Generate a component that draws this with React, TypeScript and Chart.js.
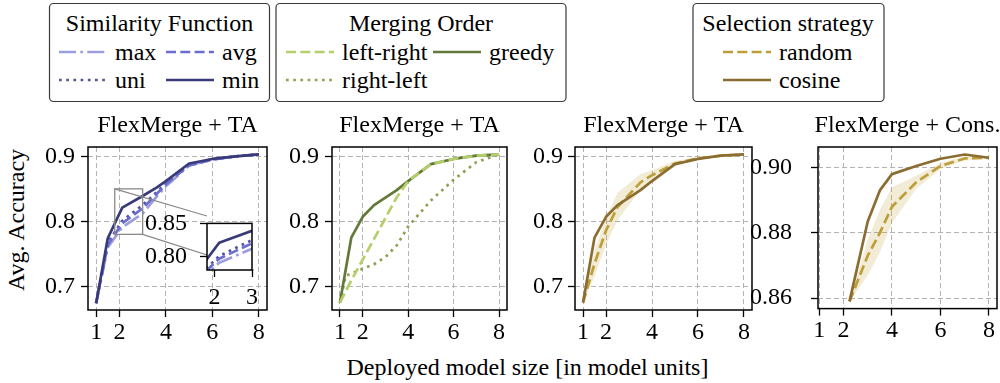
import React, { useEffect, useRef } from "react";
import { Chart, registerables } from "chart.js";

Chart.register(...registerables);

// ---------------- data ----------------
const X_TICKS = [1, 2, 4, 6, 8];
const Y_TICKS_TA = [0.7, 0.8, 0.9];
const Y_TICKS_CONS = [0.86, 0.88, 0.9];
const INSET_X_TICKS = [2, 3];
const INSET_Y_TICKS = [0.8, 0.85];

const PANEL_TITLES = ["FlexMerge + TA", "FlexMerge + TA", "FlexMerge + TA", "FlexMerge + Cons."];
const Y_AXIS_TITLE = "Avg. Accuracy";
const X_AXIS_TITLE = "Deployed model size [in model units]";

// Panel 1: similarity function
const SIM_X = [1, 1.5, 2.125, 3, 3.6, 4, 5, 6, 7, 8];
const SIM_MAX = [0.674, 0.76, 0.791, 0.812, 0.838, 0.854, 0.886, 0.895, 0.9, 0.903];
const SIM_UNI = [0.674, 0.767, 0.801, 0.825, 0.845, 0.858, 0.887, 0.896, 0.9, 0.903];
const SIM_AVG = [0.674, 0.764, 0.797, 0.82, 0.842, 0.857, 0.886, 0.895, 0.9, 0.903];
const SIM_MIN = [0.674, 0.774, 0.821, 0.839, 0.852, 0.862, 0.889, 0.896, 0.9, 0.903];

// Panel 2: merging order
const ORDER_X = [1, 1.5, 2, 2.5, 3.5, 4, 5, 6, 7, 8];
const ORDER_LEFT_RIGHT = [0.675, 0.709, 0.741, 0.773, 0.837, 0.862, 0.888, 0.896, 0.901, 0.903];
const ORDER_GREEDY = [0.675, 0.775, 0.807, 0.825, 0.848, 0.862, 0.888, 0.896, 0.901, 0.903];
const ORDER_RL_X = [1, 1.25, 2, 2.5, 3, 3.5, 4, 5, 6, 7, 8];
const ORDER_RIGHT_LEFT = [0.675, 0.716, 0.727, 0.734, 0.745, 0.763, 0.792, 0.832, 0.864, 0.891, 0.903];

// Panel 3: selection strategy (TA)
const SEL_TA_X = [1, 1.5, 2, 2.5, 3.5, 4, 5, 6, 7, 8];
const SEL_TA_COSINE = [0.675, 0.775, 0.807, 0.825, 0.848, 0.862, 0.888, 0.896, 0.901, 0.903];
const SEL_TA_RANDOM = [0.675, 0.735, 0.786, 0.822, 0.86, 0.871, 0.889, 0.897, 0.901, 0.903];
const SEL_TA_RANDOM_LO = [0.675, 0.715, 0.764, 0.802, 0.848, 0.863, 0.885, 0.895, 0.9, 0.902];
const SEL_TA_RANDOM_HI = [0.675, 0.755, 0.806, 0.844, 0.873, 0.879, 0.893, 0.899, 0.902, 0.904];

// Panel 4: selection strategy (Cons.)
const SEL_CONS_X = [2.25, 3, 3.5, 4, 5, 6, 7, 8];
const SEL_CONS_COSINE = [0.859, 0.8835, 0.893, 0.898, 0.9005, 0.9027, 0.904, 0.903];
const SEL_CONS_RANDOM = [0.859, 0.873, 0.88, 0.888, 0.8955, 0.9005, 0.9028, 0.903];
const SEL_CONS_RANDOM_LO = [0.859, 0.867, 0.874, 0.883, 0.8935, 0.8995, 0.9022, 0.9026];
const SEL_CONS_RANDOM_HI = [0.859, 0.878, 0.887, 0.894, 0.8975, 0.9015, 0.9034, 0.9034];

// Legend texts
const LEGEND_TITLES = ["Similarity Function", "Merging Order", "Selection strategy"];
const SIM_LABELS = ["max", "avg", "uni", "min"];
const ORDER_LABELS = ["left-right", "greedy", "right-left"];
const SEL_LABELS = ["random", "cosine"];

// ---------------- styles ----------------
const FONT = '"Liberation Serif", "Times New Roman", serif';
const FS = 24;
const LW = 2.7;
const DASHED = [10, 4.3];
const DOTTED = [2.7, 4.5];
const DASHDOT = [17, 4.3, 2.7, 4.3];
const SOLID: number[] = [];
const GRID_DASH = [5, 3];
const GRID_COLOR = "#b3b3b3";

const C_MIN = "#393b79";
const C_UNI = "#5254a3";
const C_AVG = "#6b6ecf";
const C_MAX = "#9c9ede";
const C_GREEDY = "#637939";
const C_RL = "#8ca252";
const C_LR = "#b5cf6b";
const C_COS = "#8c6d31";
const C_RND = "#bd9e39";
const C_BAND = "rgba(189,158,57,0.2)";

// ---------------- layout ----------------
const CANVAS_TOP = 100;
const CANVAS_BOTTOM = 342;
const PLOTS = [
  { left: 88, top: 147, right: 267, bottom: 310, canvasLeft: 8, rightPad: 12, yPad: 6 },
  { left: 332, top: 147, right: 507, bottom: 310, canvasLeft: 252, rightPad: 12, yPad: 6 },
  { left: 575, top: 147, right: 752, bottom: 310, canvasLeft: 495, rightPad: 12, yPad: 5 },
  { left: 818, top: 147, right: 997, bottom: 310, canvasLeft: 738, rightPad: 3, yPad: 19 },
];
const INSET = { left: 207, top: 216, right: 254, bottom: 270, canvasLeft: 130, canvasTop: 196, rightPad: 10, bottomSpace: 40 };

const pts = (xs: number[], ys: number[]) => xs.map((x, i) => ({ x, y: ys[i] }));

const line = (xs: number[], ys: number[], color: string, dash: number[], order: number) => ({
  data: pts(xs, ys),
  borderColor: color,
  backgroundColor: color,
  borderWidth: LW,
  borderDash: dash,
  borderCapStyle: "butt",
  borderJoinStyle: "round",
  pointRadius: 0,
  tension: 0,
  fill: false,
  order,
});

const band = (xs: number[], lo: number[], hi: number[]) => [
  { data: pts(xs, hi), borderWidth: 0, borderColor: "rgba(0,0,0,0)", backgroundColor: C_BAND, pointRadius: 0, fill: "+1", order: 20 },
  { data: pts(xs, lo), borderWidth: 0, borderColor: "rgba(0,0,0,0)", backgroundColor: C_BAND, pointRadius: 0, fill: false, order: 21 },
];

const simDatasets = () => [
  line(SIM_X, SIM_MIN, C_MIN, SOLID, 1),
  line(SIM_X, SIM_AVG, C_AVG, DASHED, 2),
  line(SIM_X, SIM_UNI, C_UNI, DOTTED, 3),
  line(SIM_X, SIM_MAX, C_MAX, DASHDOT, 4),
];

function decoPlugin(title: string | null, extra?: (chart: any) => void) {
  return {
    id: "deco",
    afterDatasetsDraw(chart: any) {
      const { ctx, chartArea: a } = chart;
      ctx.save();
      if (extra) extra(chart);
      ctx.setLineDash([]);
      ctx.strokeStyle = "#000";
      ctx.lineWidth = 1.5;
      ctx.strokeRect(a.left, a.top, a.right - a.left, a.bottom - a.top);
      if (title) {
        ctx.fillStyle = "#000";
        ctx.font = `${FS}px ${FONT}`;
        ctx.textAlign = "center";
        ctx.textBaseline = "alphabetic";
        ctx.fillText(title, (a.left + a.right) / 2, a.top - 15);
      }
      ctx.restore();
    },
  };
}

function axisOpts(opts: any) {
  const { min, max, ticks, fmt, size, horizontal, padding, grid } = opts;
  return {
    type: "linear",
    min,
    max,
    afterFit: (s: any) => {
      if (horizontal) s.height = size;
      else s.width = size;
    },
    afterBuildTicks: (s: any) => {
      s.ticks = ticks.map((v: number) => ({ value: v }));
    },
    ticks: {
      autoSkip: false,
      maxRotation: 0,
      color: "#000",
      padding,
      font: { family: FONT, size: FS },
      callback: (v: number) => fmt(v),
    },
    grid: {
      display: true,
      drawOnChartArea: grid,
      color: GRID_COLOR,
      lineWidth: 1,
      drawTicks: true,
      tickLength: 7,
      tickColor: "#000",
      tickWidth: 1.3,
    },
    border: { display: false, dash: GRID_DASH },
  };
}

function panelConfig(idx: number, datasets: any[], xMin: number, xMax: number, yMin: number, yMax: number, yTicks: number[], yDigits: number, extra?: (c: any) => void) {
  const p = PLOTS[idx];
  return {
    type: "line",
    data: { datasets },
    options: {
      responsive: false,
      maintainAspectRatio: false,
      animation: false,
      events: [],
      layout: { padding: { left: 0, top: p.top - CANVAS_TOP, right: p.rightPad, bottom: 0 } },
      plugins: { legend: { display: false }, tooltip: { enabled: false }, title: { display: false } },
      scales: {
        x: axisOpts({ min: xMin, max: xMax, ticks: X_TICKS, fmt: (v: number) => String(v), size: CANVAS_BOTTOM - p.bottom, horizontal: true, padding: 1, grid: true }),
        y: axisOpts({ min: yMin, max: yMax, ticks: yTicks, fmt: (v: number) => v.toFixed(yDigits), size: p.left - p.canvasLeft, horizontal: false, padding: p.yPad, grid: true }),
      },
    },
    plugins: [decoPlugin(PANEL_TITLES[idx], extra)],
  };
}

// inset mark (rectangle + connectors) drawn on panel 1
const INSET_XLIM = [1.8, 3.0];
const INSET_YLIM = [0.78, 0.85];

function insetMark(chart: any) {
  const { ctx, scales } = chart;
  const p = PLOTS[0];
  const x1 = scales.x.getPixelForValue(INSET_XLIM[0]);
  const x2 = scales.x.getPixelForValue(INSET_XLIM[1]);
  const y1 = scales.y.getPixelForValue(INSET_YLIM[1]);
  const y2 = scales.y.getPixelForValue(INSET_YLIM[0]);
  ctx.strokeStyle = "#8a8a8a";
  ctx.lineWidth = 1.3;
  ctx.setLineDash([]);
  ctx.strokeRect(x1, y1, x2 - x1, y2 - y1);
  ctx.beginPath();
  ctx.moveTo(x1, y1);
  ctx.lineTo(INSET.left - p.canvasLeft, INSET.top - CANVAS_TOP);
  ctx.moveTo(x2, y2);
  ctx.lineTo(INSET.right - p.canvasLeft, INSET.bottom - CANVAS_TOP);
  ctx.stroke();
}

function insetConfig() {
  const whiteBg = {
    id: "whiteBg",
    beforeDatasetsDraw(chart: any) {
      const { ctx, chartArea: a } = chart;
      ctx.save();
      ctx.fillStyle = "#fff";
      ctx.fillRect(a.left, a.top, a.right - a.left, a.bottom - a.top);
      ctx.restore();
    },
  };
  return {
    type: "line",
    data: { datasets: simDatasets() },
    options: {
      responsive: false,
      maintainAspectRatio: false,
      animation: false,
      events: [],
      layout: { padding: { left: 0, top: INSET.top - INSET.canvasTop, right: INSET.rightPad, bottom: 0 } },
      plugins: { legend: { display: false }, tooltip: { enabled: false }, title: { display: false } },
      scales: {
        x: axisOpts({ min: INSET_XLIM[0], max: INSET_XLIM[1], ticks: INSET_X_TICKS, fmt: (v: number) => String(v), size: INSET.bottomSpace, horizontal: true, padding: 6, grid: false }),
        y: axisOpts({ min: INSET_YLIM[0], max: INSET_YLIM[1], ticks: INSET_Y_TICKS, fmt: (v: number) => v.toFixed(2), size: INSET.left - INSET.canvasLeft, horizontal: false, padding: 13, grid: false }),
      },
    },
    plugins: [whiteBg, decoPlugin(null)],
  };
}

// ---------------- legends ----------------
const ROW_Y = [52, 80];
const HANDLE = 48;
const LEGENDS = [
  {
    box: [49.5, 3.5, 220, 98], titleX: 159.5, title: LEGEND_TITLES[0],
    items: [
      { label: SIM_LABELS[0], color: C_MAX, dash: DASHDOT, x: 59, row: 0 },
      { label: SIM_LABELS[1], color: C_AVG, dash: DASHED, x: 166, row: 0 },
      { label: SIM_LABELS[2], color: C_UNI, dash: DOTTED, x: 59, row: 1 },
      { label: SIM_LABELS[3], color: C_MIN, dash: SOLID, x: 166, row: 1 },
    ],
  },
  {
    box: [276, 3.5, 290, 98], titleX: 421, title: LEGEND_TITLES[1],
    items: [
      { label: ORDER_LABELS[0], color: C_LR, dash: DASHED, x: 286, row: 0 },
      { label: ORDER_LABELS[1], color: C_GREEDY, dash: SOLID, x: 433, row: 0 },
      { label: ORDER_LABELS[2], color: C_RL, dash: DOTTED, x: 286, row: 1 },
    ],
  },
  {
    box: [693, 3.5, 191, 98], titleX: 788, title: LEGEND_TITLES[2],
    items: [
      { label: SEL_LABELS[0], color: C_RND, dash: DASHED, x: 723, row: 0 },
      { label: SEL_LABELS[1], color: C_COS, dash: SOLID, x: 723, row: 1 },
    ],
  },
];

function canvasStyle(left: number, top: number, w: number, h: number): React.CSSProperties {
  return { position: "absolute", left, top, width: w, height: h, display: "block" };
}

export default function App() {
  const r0 = useRef<HTMLCanvasElement>(null);
  const r1 = useRef<HTMLCanvasElement>(null);
  const r2 = useRef<HTMLCanvasElement>(null);
  const r3 = useRef<HTMLCanvasElement>(null);
  const rInset = useRef<HTMLCanvasElement>(null);

  useEffect(() => {
    Chart.defaults.font.family = FONT;
    const TA_Y = [0.6636, 0.9144];
    const charts: Chart[] = [];
    charts.push(
      new Chart(r0.current as any, panelConfig(0, simDatasets(), 0.65, 8.35, TA_Y[0], TA_Y[1], Y_TICKS_TA, 1, insetMark) as any)
    );
    charts.push(
      new Chart(
        r1.current as any,
        panelConfig(
          1,
          [
            line(ORDER_X, ORDER_LEFT_RIGHT, C_LR, DASHED, 1),
            line(ORDER_X, ORDER_GREEDY, C_GREEDY, SOLID, 2),
            line(ORDER_RL_X, ORDER_RIGHT_LEFT, C_RL, DOTTED, 3),
          ],
          0.65, 8.35, TA_Y[0], TA_Y[1], Y_TICKS_TA, 1
        ) as any
      )
    );
    charts.push(
      new Chart(
        r2.current as any,
        panelConfig(
          2,
          [
            line(SEL_TA_X, SEL_TA_COSINE, C_COS, SOLID, 1),
            line(SEL_TA_X, SEL_TA_RANDOM, C_RND, DASHED, 2),
            ...band(SEL_TA_X, SEL_TA_RANDOM_LO, SEL_TA_RANDOM_HI),
          ],
          0.65, 8.35, TA_Y[0], TA_Y[1], Y_TICKS_TA, 1
        ) as any
      )
    );
    charts.push(
      new Chart(
        r3.current as any,
        panelConfig(
          3,
          [
            line(SEL_CONS_X, SEL_CONS_COSINE, C_COS, SOLID, 1),
            line(SEL_CONS_X, SEL_CONS_RANDOM, C_RND, DASHED, 2),
            ...band(SEL_CONS_X, SEL_CONS_RANDOM_LO, SEL_CONS_RANDOM_HI),
          ],
          0.95, 8.33, 0.8568, 0.9063, Y_TICKS_CONS, 2
        ) as any
      )
    );
    charts.push(new Chart(rInset.current as any, insetConfig() as any));
    return () => charts.forEach((c) => c.destroy());
  }, []);

  const refs = [r0, r1, r2, r3];
  const insetW = INSET.right + INSET.rightPad - INSET.canvasLeft;
  const insetH = INSET.bottom + INSET.bottomSpace - INSET.canvasTop;

  return (
    <div style={{ position: "absolute", left: 0, top: 0, width: 1000, height: 383, background: "#fff", overflow: "hidden" }}>
      <svg width={1000} height={383} style={{ position: "absolute", left: 0, top: 0 }} fontFamily={FONT} fontSize={FS}>
        {LEGENDS.map((lg) => (
          <g key={lg.title}>
            <rect x={lg.box[0]} y={lg.box[1]} width={lg.box[2]} height={lg.box[3]} rx={4} ry={4} fill="#fff" stroke="#3a3a3a" strokeWidth={1.2} />
            <text x={lg.titleX} y={31} textAnchor="middle" fill="#000">
              {lg.title}
            </text>
            {lg.items.map((it) => (
              <g key={it.label}>
                <line
                  x1={it.x}
                  x2={it.x + HANDLE}
                  y1={ROW_Y[it.row]}
                  y2={ROW_Y[it.row]}
                  stroke={it.color}
                  strokeWidth={LW}
                  strokeDasharray={it.dash.length ? it.dash.join(" ") : undefined}
                />
                <text x={it.x + HANDLE + 8} y={ROW_Y[it.row] + 8} fill="#000">
                  {it.label}
                </text>
              </g>
            ))}
          </g>
        ))}
        <text x={527.5} y={375} textAnchor="middle" fill="#000">
          {X_AXIS_TITLE}
        </text>
        <text transform="translate(24,220) rotate(-90)" textAnchor="middle" fill="#000">
          {Y_AXIS_TITLE}
        </text>
      </svg>
      {PLOTS.map((p, i) => {
        const w = p.right + p.rightPad - p.canvasLeft;
        const h = CANVAS_BOTTOM - CANVAS_TOP;
        return <canvas key={i} ref={refs[i]} width={w} height={h} style={canvasStyle(p.canvasLeft, CANVAS_TOP, w, h)} />;
      })}
      <canvas ref={rInset} width={insetW} height={insetH} style={canvasStyle(INSET.canvasLeft, INSET.canvasTop, insetW, insetH)} />
    </div>
  );
}
